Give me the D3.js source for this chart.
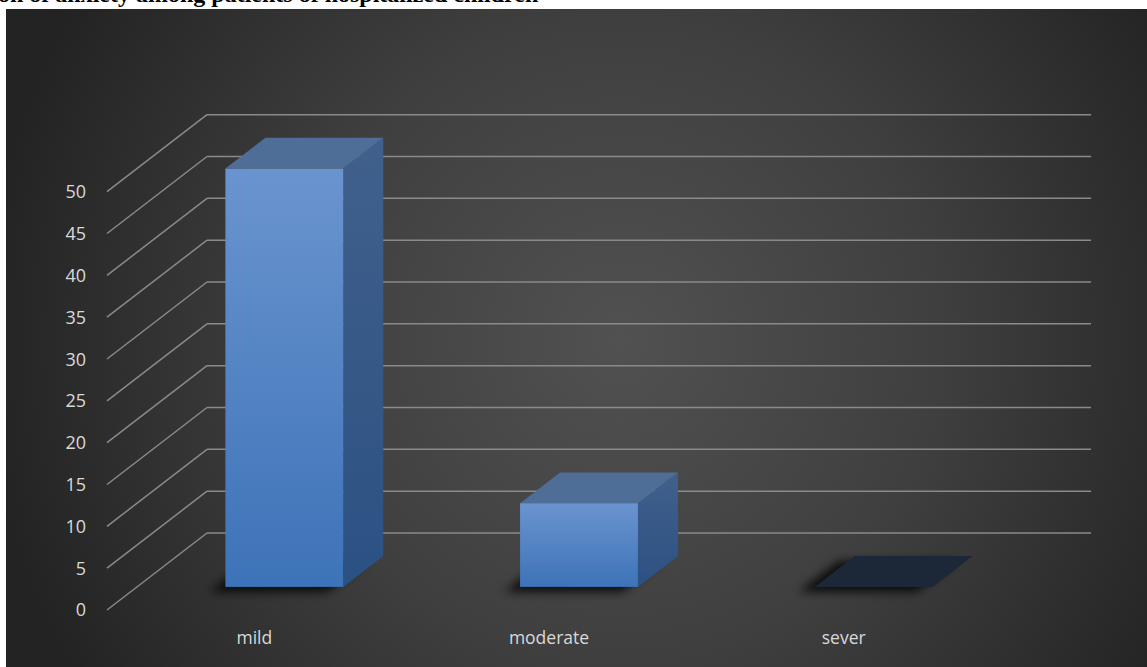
<!DOCTYPE html>
<html>
<head>
<meta charset="utf-8">
<script src="https://cdn.jsdelivr.net/npm/d3@7"></script>
<style>
  html, body { margin: 0; padding: 0; background: #ffffff; }
  svg { display: block; }
</style>
</head>
<body>
<div id="chart"></div>
<script>
// anxiety levels, 3D clustered column
const categories = ['mild', 'moderate', 'sever'];
const values     = [50, 10, 0];
const yTicks     = [0, 5, 10, 15, 20, 25, 30, 35, 40, 45, 50];
const titleText  = 'Distribution of anxiety among patients of hospitalized children';

const W = 1147, H = 667;

// ─── Geometry of the oblique 3D box ───────────────────────────────────────────
const X0 = 107;          // front-left corner of floor
const PLOT_W = 884;      // floor width
const DX = 100, DY = -77; // full depth offset (front -> back wall)
const F0 = 0.3, F1 = 0.7; // bar depth span, as fraction of full depth

const svg = d3.select('#chart').append('svg')
  .attr('width', W).attr('height', H)
  .attr('viewBox', `0 0 ${W} ${H}`);

const defs = svg.append('defs');

const bg = defs.append('radialGradient')
  .attr('id', 'bg').attr('gradientUnits', 'userSpaceOnUse')
  .attr('cx', 620).attr('cy', 340).attr('r', 640);
bg.append('stop').attr('offset', 0).attr('stop-color', '#515151');
bg.append('stop').attr('offset', 0.5).attr('stop-color', '#3f3f3f');
bg.append('stop').attr('offset', 1).attr('stop-color', '#232323');

const front = defs.append('linearGradient')
  .attr('id', 'front').attr('x1', 0).attr('y1', 0).attr('x2', 0).attr('y2', 1);
front.append('stop').attr('offset', 0).attr('stop-color', '#6a94cf');
front.append('stop').attr('offset', 1).attr('stop-color', '#3d73b8');

const side = defs.append('linearGradient')
  .attr('id', 'side').attr('x1', 0).attr('y1', 0).attr('x2', 0).attr('y2', 1);
side.append('stop').attr('offset', 0).attr('stop-color', '#41608c');
side.append('stop').attr('offset', 1).attr('stop-color', '#2b5183');

defs.append('filter').attr('id', 'blur')
  .attr('x', '-30%').attr('y', '-100%').attr('width', '160%').attr('height', '300%')
  .append('feGaussianBlur').attr('stdDeviation', 5);

// panel
svg.append('rect')
  .attr('x', 6).attr('y', 9).attr('width', W - 6).attr('height', H - 9)
  .attr('fill', 'url(#bg)');

// title (cut off by the page top, as in the source)
const title = svg.append('text')
  .attr('x', 0).attr('y', 2)
  .attr('font-family', '"Liberation Serif", serif')
  .attr('font-weight', 'bold').attr('font-size', 24)
  .attr('fill', '#000')
  .text(titleText);
// line the "y" of "anxiety" up with where it sits in the source (x ~ 118)
const yIdx = titleText.indexOf('anxiety') + 6;
title.attr('x', 118 - title.node().getSubStringLength(0, yIdx));

// ─── Scales ───────────────────────────────────────────────────────────────────
const y = d3.scaleLinear().domain([0, 50]).range([610, 191.7]);
const x = d3.scaleBand().domain(categories).range([0, PLOT_W])
  .paddingInner(0.6).paddingOuter(0.3);

// point at floor-x px, value v, depth fraction f
const pt = (px, v, f) => [X0 + px + DX * f, y(v) + DY * f];

// ─── Grid: back wall lines + diagonal side-wall lines ─────────────────────────
const grid = svg.append('g')
  .attr('stroke', '#8a8a8a').attr('stroke-width', 1.5).attr('fill', 'none');

grid.selectAll('line.back').data(yTicks).join('line')
  .attr('class', 'back')
  .attr('x1', d => pt(0, d, 1)[0]).attr('y1', d => pt(0, d, 1)[1])
  .attr('x2', d => pt(PLOT_W, d, 1)[0]).attr('y2', d => pt(PLOT_W, d, 1)[1]);

grid.selectAll('line.diag').data(yTicks).join('line')
  .attr('class', 'diag')
  .attr('x1', d => pt(0, d, 0)[0]).attr('y1', d => pt(0, d, 0)[1])
  .attr('x2', d => pt(0, d, 1)[0]).attr('y2', d => pt(0, d, 1)[1]);

// tick labels
svg.append('g').selectAll('text').data(yTicks).join('text')
  .attr('x', 86).attr('y', d => y(d))
  .attr('dy', '0.36em')
  .attr('text-anchor', 'end')
  .attr('font-family', '"Open Sans", sans-serif').attr('font-size', 18)
  .attr('fill', '#d9d9d9')
  .text(d => d);

// category labels
svg.append('g').selectAll('text').data(categories).join('text')
  .attr('x', d => X0 + x(d) + x.bandwidth() / 2)
  .attr('y', 644)
  .attr('text-anchor', 'middle')
  .attr('font-family', '"Open Sans", sans-serif').attr('font-size', 17.5)
  .attr('fill', '#d9d9d9')
  .text(d => d);

// ─── Bars ─────────────────────────────────────────────────────────────────────
const poly = pts => pts.map(p => p.join(',')).join(' ');
const bars = svg.append('g');

categories.forEach((c, i) => {
  const v = values[i];
  const l = x(c), r = x(c) + x.bandwidth();
  const g = bars.append('g');

  // soft shadow under the footprint
  const foot = [pt(l, 0, F0), pt(r, 0, F0), pt(r, 0, F1), pt(l, 0, F1)]
    .map(p => [p[0] - 16, p[1] + 5]);
  g.append('polygon')
    .attr('points', poly(foot))
    .attr('fill', '#000').attr('opacity', 0.8)
    .attr('filter', 'url(#blur)');

  if (v === 0) {
    g.append('polygon')
      .attr('points', poly([pt(l, 0, F0), pt(r, 0, F0), pt(r, 0, F1), pt(l, 0, F1)]))
      .attr('fill', '#1c2838');
    return;
  }

  // right side
  g.append('polygon')
    .attr('points', poly([pt(r, v, F0), pt(r, v, F1), pt(r, 0, F1), pt(r, 0, F0)]))
    .attr('fill', 'url(#side)');
  // top
  g.append('polygon')
    .attr('points', poly([pt(l, v, F0), pt(r, v, F0), pt(r, v, F1), pt(l, v, F1)]))
    .attr('fill', '#4e6d97');
  // front
  const p0 = pt(l, v, F0), p1 = pt(r, 0, F0);
  g.append('rect')
    .attr('x', p0[0]).attr('y', p0[1])
    .attr('width', p1[0] - p0[0]).attr('height', p1[1] - p0[1])
    .attr('fill', 'url(#front)');
});
</script>
</body>
</html>
